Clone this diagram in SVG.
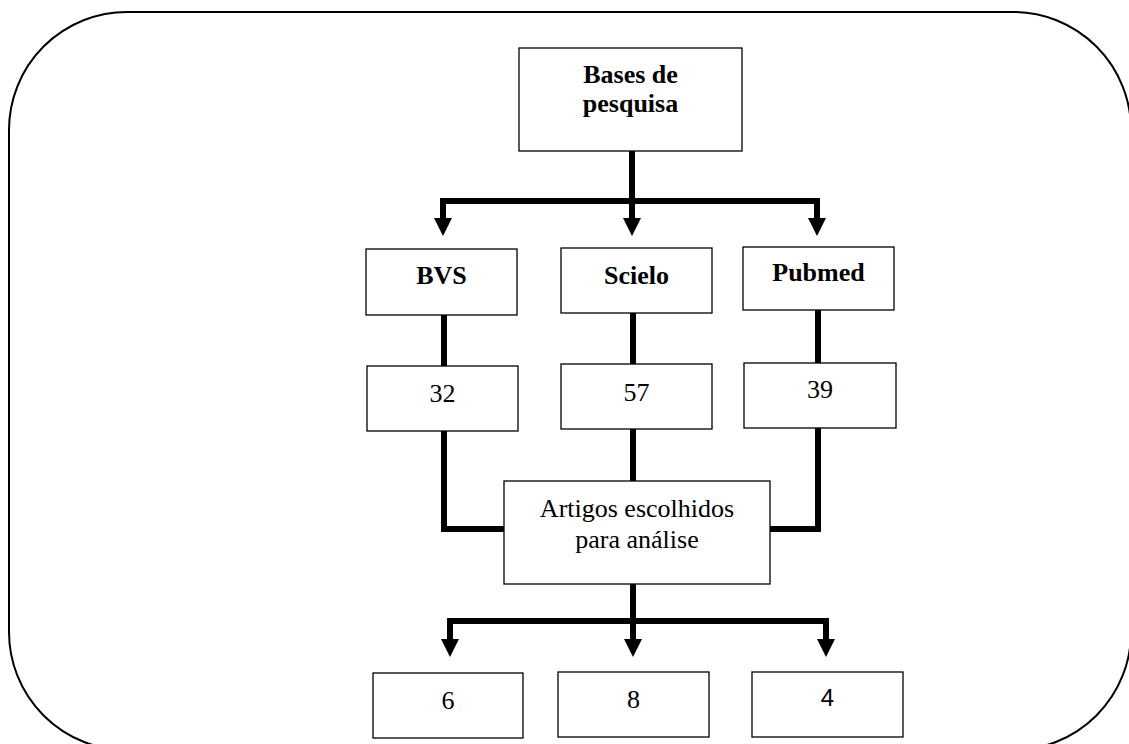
<svg xmlns="http://www.w3.org/2000/svg" width="1129" height="744" viewBox="0 0 1129 744">
<style>
.box{fill:#fff;stroke:#000;stroke-width:1.3}
.conn{fill:none;stroke:#000;stroke-width:6;stroke-linejoin:miter}
.b{font-family:"Liberation Serif","Times New Roman",serif;font-weight:bold;font-size:26px;text-anchor:middle;fill:#000}
.r{font-family:"Liberation Serif","Times New Roman",serif;font-size:26px;text-anchor:middle;fill:#000}
.s{font-family:"Liberation Sans",Arial,sans-serif;font-size:24px;text-anchor:middle;fill:#000}
</style>
<defs>
<marker id="ah" markerUnits="userSpaceOnUse" markerWidth="18" markerHeight="18" viewBox="0 0 18 18" refX="0" refY="9" orient="auto-start-reverse">
<path d="M0,0 L18,9 L0,18 Z" fill="#000"/>
</marker>
</defs>
<rect x="0" y="0" width="1129" height="744" fill="#fff"/>
<rect id="frame" x="9" y="12" width="1122" height="738" rx="118" ry="118" fill="none" stroke="#000" stroke-width="2"/>
<g id="connectors">
<path class="conn" d="M443,218 V201 H817 V218" marker-start="url(#ah)" marker-end="url(#ah)"/>
<path class="conn" d="M632,151 V218" marker-end="url(#ah)"/>
<path class="conn" d="M444,315 V366"/>
<path class="conn" d="M633,313 V364"/>
<path class="conn" d="M818,310 V363"/>
<path class="conn" d="M444,431 V529 H504"/>
<path class="conn" d="M818,428 V529 H770"/>
<path class="conn" d="M633,429 V481"/>
<path class="conn" d="M450,639 V621 H826 V639" marker-start="url(#ah)" marker-end="url(#ah)"/>
<path class="conn" d="M633,584 V639" marker-end="url(#ah)"/>
</g>
<g id="bases">
<rect class="box" x="519" y="48" width="223" height="103"/>
<text class="b" x="630.5" y="83">Bases de</text>
<text class="b" x="630.5" y="112">pesquisa</text>
</g>
<g id="bvs">
<rect class="box" x="366" y="249" width="151" height="66"/>
<text class="b" x="441.5" y="284">BVS</text>
</g>
<g id="scielo">
<rect class="box" x="561" y="248" width="151" height="65"/>
<text class="b" x="636.5" y="284">Scielo</text>
</g>
<g id="pubmed">
<rect class="box" x="743" y="247" width="151" height="63"/>
<text class="b" x="818.5" y="281">Pubmed</text>
</g>
<g id="n32">
<rect class="box" x="367" y="366" width="151" height="65"/>
<text class="r" x="442.5" y="402">32</text>
</g>
<g id="n57">
<rect class="box" x="561" y="364" width="151" height="65"/>
<text class="r" x="636.5" y="401">57</text>
</g>
<g id="n39">
<rect class="box" x="744" y="363" width="152" height="65"/>
<text class="r" x="820" y="398">39</text>
</g>
<g id="artigos">
<rect class="box" x="504" y="481" width="266" height="103"/>
<text class="r" x="637" y="517">Artigos escolhidos</text>
<text class="r" x="637" y="548">para análise</text>
</g>
<g id="n6">
<rect class="box" x="373" y="673" width="150" height="65"/>
<text class="r" x="448" y="709">6</text>
</g>
<g id="n8">
<rect class="box" x="558" y="672" width="151" height="65"/>
<text class="r" x="633.5" y="708">8</text>
</g>
<g id="n4">
<rect class="box" x="752" y="672" width="151" height="65"/>
<text class="s" x="827.5" y="706">4</text>
</g>
</svg>
